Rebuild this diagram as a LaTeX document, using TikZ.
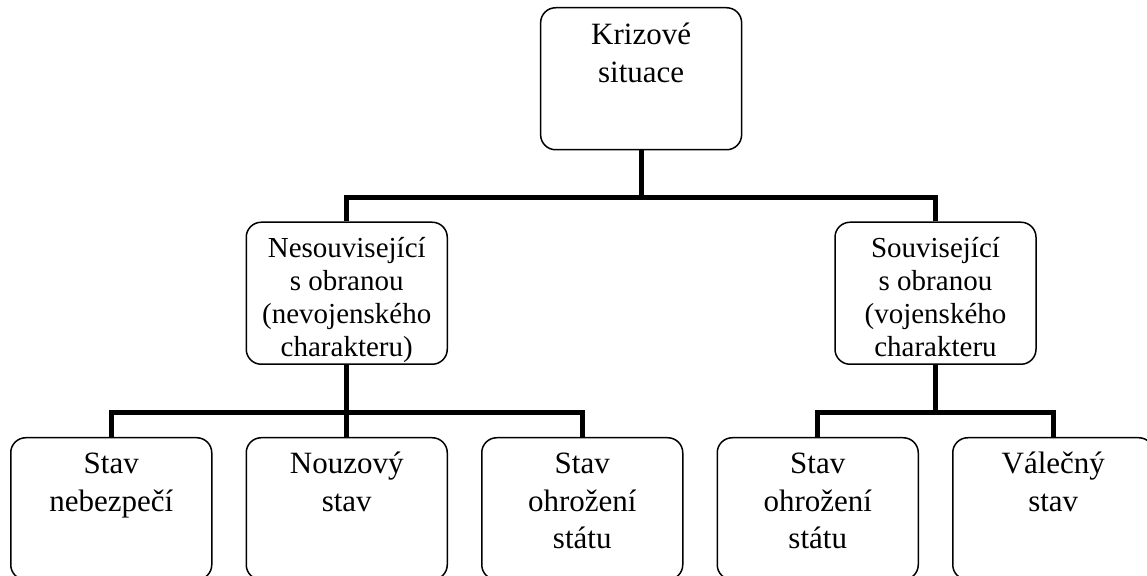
\documentclass[tikz,border=0pt]{standalone}
\usepackage{fontspec}
\setmainfont{Liberation Serif}
\usetikzlibrary{positioning, calc}
\newcommand{\boxtxt}[2][13pt]{\parbox[t][61pt][t]{90pt}{\centering\rule{0pt}{#1}#2}}
\tikzset{
  krnode/.style={rectangle, rounded corners=7.5pt, draw=black, line width=0.75pt,
                 fill=white, inner sep=5pt, minimum width=100.5pt, minimum height=71pt,
                 font=\fontsize{15.5pt}{18.75pt}\selectfont},
  krmid/.style={krnode, font=\fontsize{14.5pt}{16.5pt}\selectfont},
  krbar/.style={line width=2.5pt, color=black},
}
\begin{document}
\begin{tikzpicture}[node distance=36pt and 16.5pt]
  \useasboundingbox (0,0) rectangle (573.5pt,-288pt);
  % spodni rada
  \node[krnode, anchor=north west] (nebez) at (5pt,-218.5pt) {\boxtxt{Stav\\nebezpečí}};
  \node[krnode, right=of nebez] (nouz) {\boxtxt{Nouzový\\stav}};
  \node[krnode, right=of nouz] (ohrozA) {\boxtxt{Stav\\ohrožení\\státu}};
  \node[krnode, right=of ohrozA] (ohrozB) {\boxtxt{Stav\\ohrožení\\státu}};
  \node[krnode, right=of ohrozB] (valec) {\boxtxt{Válečný\\stav}};
  % stredni rada
  \node[krmid, above=of nouz] (nesouv) {\boxtxt[12.5pt]{Nesouvisející\\s obranou\\(nevojenského\\charakteru)}};
  \node[krmid, anchor=south] (souv) at ($(ohrozB.north)!0.5!(valec.north)+(0,36pt)$)
    {\boxtxt[12.5pt]{Související\\s obranou\\(vojenského\\charakteru}};
  % vrchol
  \node[krnode, anchor=south] (krizove) at ($(nesouv.north)!0.5!(souv.north)+(0,35.5pt)$)
    {\boxtxt[13.5pt]{Krizové\\situace}};
  % spojnice
  \draw[krbar](krizove.south) -- ++(0,-23.5pt) -| (nesouv.north);
  \draw[krbar](krizove.south) -- ++(0,-23.5pt) -| (souv.north);
  \draw[krbar](nesouv.south) -- ++(0,-24pt) -| (nebez.north);
  \draw[krbar](nesouv.south) -- ++(0,-24pt) -| (nouz.north);
  \draw[krbar](nesouv.south) -- ++(0,-24pt) -| (ohrozA.north);
  \draw[krbar](souv.south) -- ++(0,-24pt) -| (ohrozB.north);
  \draw[krbar](souv.south) -- ++(0,-24pt) -| (valec.north);
\end{tikzpicture}
\end{document}
